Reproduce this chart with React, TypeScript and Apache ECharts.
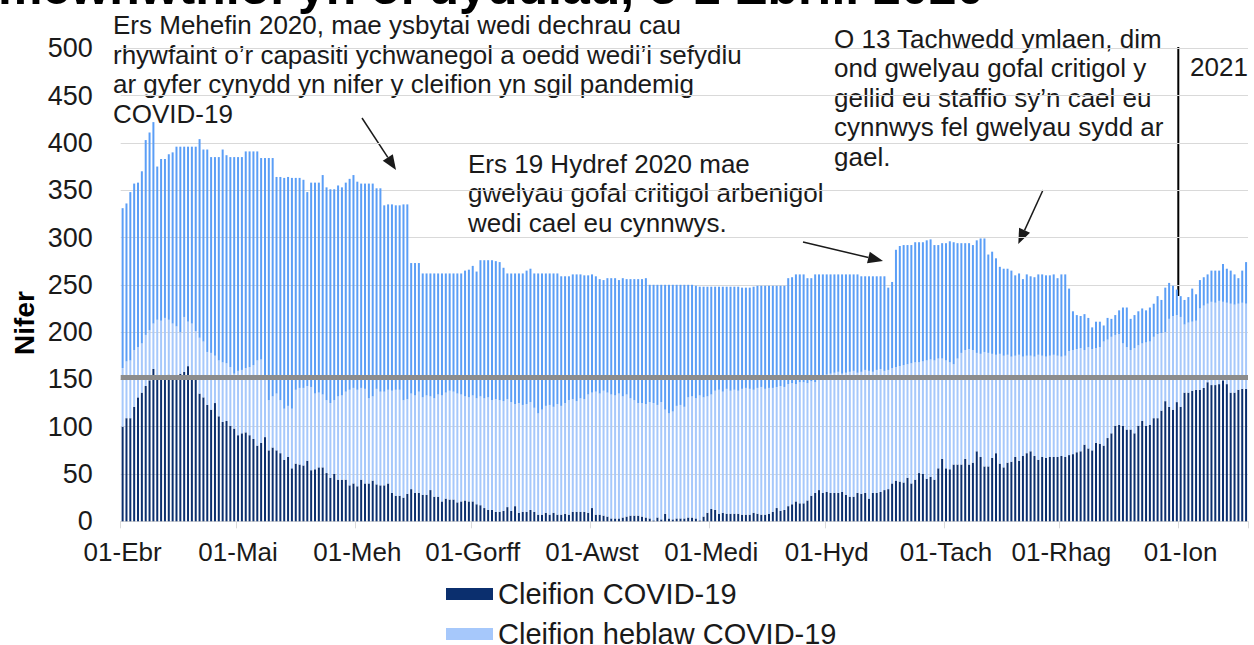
import React, { useEffect, useRef } from "react";
import * as echarts from "echarts";

const FONT = '"Liberation Sans", Arial, sans-serif';
const DARK = "#0b2f6e";
const LIGHT = "#a6c8fb";
const MID = "#5b9ef6";

// Welsh month abbreviations and days shown per month (1 Apr 2020 – 18 Jan 2021)
const monthNames = ["Ebr", "Mai", "Meh", "Gorff", "Awst", "Medi", "Hyd", "Tach", "Rhag", "Ion"];
const monthLengths = [30, 31, 30, 31, 31, 30, 31, 30, 31, 18];

// Cleifion COVID-19 (daily)
const covid = [
  100, 109, 109, 121, 131, 136, 143, 149, 161, 152,
  154, 153, 155, 152, 154, 156, 158, 164, 152, 150,
  135, 131, 123, 118, 125, 111, 105, 106, 101, 98,
  91, 93, 94, 91, 87, 80, 83, 89, 75, 78,
  75, 72, 65, 68, 56, 61, 60, 59, 64, 54,
  55, 57, 57, 51, 46, 50, 44, 44, 44, 38,
  40, 37, 44, 40, 40, 43, 39, 38, 38, 40,
  30, 27, 27, 25, 29, 34, 30, 30, 28, 28,
  33, 26, 26, 21, 24, 23, 23, 20, 21, 22,
  21, 21, 18, 17, 14, 12, 12, 10, 10, 11,
  15, 11, 16, 9, 10, 10, 12, 10, 7, 7,
  9, 7, 9, 7, 7, 8, 7, 10, 10, 10,
  10, 9, 14, 7, 7, 6, 5, 3, 3, 3,
  4, 5, 6, 6, 6, 5, 4, 3, 1, 4,
  2, 8, 3, 2, 3, 3, 3, 4, 4, 3,
  1, 5, 9, 13, 12, 8, 9, 8, 8, 8,
  8, 7, 7, 7, 9, 8, 7, 7, 8, 10,
  14, 11, 12, 16, 18, 21, 19, 19, 22, 27,
  30, 33, 30, 31, 30, 30, 30, 31, 28, 26,
  26, 30, 29, 30, 24, 30, 30, 31, 33, 34,
  40, 43, 42, 41, 46, 40, 44, 51, 50, 45,
  47, 44, 56, 66, 56, 55, 60, 60, 60, 66,
  60, 62, 74, 68, 58, 58, 67, 72, 61, 57,
  62, 63, 68, 64, 69, 72, 74, 69, 65, 68,
  67, 68, 68, 68, 69, 68, 70, 71, 73, 74,
  81, 77, 75, 83, 82, 80, 88, 93, 101, 102,
  101, 97, 97, 93, 101, 106, 101, 102, 109, 109,
  117, 127, 121, 118, 126, 121, 136, 136, 138, 139,
  139, 141, 147, 144, 144, 145, 149, 145, 136, 136,
  139, 140, 140,
];

// Cleifion heblaw COVID-19 (daily)
const nonCovid = [
  62, 60, 61, 60, 53, 52, 54, 53, 48, 61,
  58, 62, 58, 57, 52, 44, 58, 47, 57, 51,
  59, 59, 56, 60, 50, 59, 63, 61, 62, 58,
  68, 67, 68, 72, 78, 90, 88, 64, 53, 54,
  60, 56, 54, 54, 63, 78, 81, 82, 79, 88,
  80, 79, 77, 77, 79, 78, 88, 89, 93, 101,
  101, 102, 97, 100, 90, 89, 101, 99, 99, 99,
  108, 112, 112, 103, 100, 101, 103, 107, 103, 105,
  99, 104, 108, 112, 112, 115, 114, 115, 113, 110,
  110, 112, 112, 115, 116, 119, 116, 119, 118, 116,
  114, 115, 108, 116, 113, 114, 114, 110, 107, 111,
  113, 116, 112, 117, 115, 117, 121, 119, 117, 120,
  119, 125, 122, 130, 128, 132, 131, 131, 130, 132,
  128, 129, 124, 122, 119, 120, 120, 123, 124, 119,
  124, 110, 111, 114, 119, 120, 118, 127, 128, 127,
  132, 126, 123, 121, 126, 131, 128, 132, 130, 131,
  130, 133, 134, 133, 130, 133, 135, 133, 133, 131,
  128, 132, 130, 129, 128, 124, 128, 128, 124, 121,
  117, 119, 124, 124, 126, 127, 128, 125, 129, 132,
  133, 127, 129, 130, 135, 128, 130, 130, 126, 126,
  122, 120, 122, 124, 120, 127, 124, 117, 119, 125,
  124, 126, 116, 106, 114, 113, 106, 112, 118, 115,
  122, 119, 104, 109, 121, 120, 110, 104, 116, 118,
  114, 111, 107, 112, 105, 103, 101, 105, 111, 107,
  107, 107, 108, 107, 105, 107, 110, 110, 109, 109,
  100, 107, 107, 100, 102, 110, 104, 102, 96, 96,
  87, 87, 84, 90, 85, 82, 88, 88, 86, 89,
  82, 73, 93, 99, 92, 95, 72, 74, 73, 73,
  86, 87, 83, 88, 87, 88, 83, 86, 94, 93,
  91, 91, 90,
];

// Gwelyau gwag sydd ar gael (daily)
const available = [
  169, 167, 178, 176, 174, 182, 206, 209, 213, 162,
  171, 168, 175, 181, 190, 196, 180, 185, 187, 195,
  210, 203, 214, 207, 210, 215, 225, 220, 222, 229,
  226, 225, 229, 228, 226, 221, 213, 231, 256, 252,
  229, 236, 244, 242, 244, 224, 222, 220, 205, 216,
  223, 222, 232, 225, 226, 223, 223, 220, 221, 223,
  225, 220, 216, 217, 227, 225, 212, 215, 197, 196,
  197, 195, 195, 207, 206, 138, 140, 136, 131, 129,
  130, 132, 128, 129, 126, 124, 125, 127, 128, 133,
  135, 137, 134, 144, 146, 145, 148, 146, 146, 141,
  133, 136, 138, 137, 139, 141, 141, 142, 148, 144,
  140, 139, 141, 138, 137, 134, 131, 132, 134, 131,
  131, 126, 125, 122, 121, 117, 121, 123, 124, 120,
  125, 122, 126, 128, 131, 131, 133, 124, 125, 127,
  124, 132, 136, 134, 128, 127, 129, 119, 118, 119,
  115, 117, 116, 114, 110, 109, 111, 108, 110, 109,
  110, 107, 106, 107, 109, 108, 107, 109, 108, 108,
  107, 106, 107, 112, 112, 116, 114, 114, 111, 109,
  114, 109, 107, 106, 105, 104, 103, 105, 104, 103,
  102, 104, 101, 99, 100, 101, 99, 98, 100, 87,
  91, 124, 127, 127, 126, 125, 127, 127, 126, 127,
  127, 122, 120, 122, 124, 128, 129, 122, 116, 113,
  112, 111, 119, 122, 120, 104, 108, 102, 92, 92,
  91, 91, 85, 86, 82, 86, 84, 84, 85, 86,
  86, 85, 85, 82, 87, 86, 66, 41, 36, 34,
  38, 31, 23, 28, 27, 17, 23, 19, 21, 25,
  38, 42, 33, 35, 36, 37, 34, 36, 35, 40,
  35, 47, 38, 32, 27, 22, 26, 27, 35, 28,
  30, 30, 31, 33, 34, 32, 40, 36, 35, 32,
  27, 34, 44,
];

const baselineBeds = 152;
const yMin = 0;
const yMax = 500;
const yStep = 50;

const categories: string[] = [];
monthNames.forEach((m, i) => {
  for (let d = 1; d <= monthLengths[i]; d++) {
    categories.push(`${String(d).padStart(2, "0")}-${m}`);
  }
});

const isMonthStart = (_i: number, v: string) => String(v).startsWith("01-");

function arrow(x1: number, y1: number, x2: number, y2: number) {
  const dx = x2 - x1;
  const dy = y2 - y1;
  const len = Math.sqrt(dx * dx + dy * dy);
  const ux = dx / len;
  const uy = dy / len;
  const headLen = 15;
  const headHalf = 6;
  const bx = x2 - ux * headLen;
  const by = y2 - uy * headLen;
  const px = -uy * headHalf;
  const py = ux * headHalf;
  return [
    { type: "line", silent: true, shape: { x1, y1, x2: bx, y2: by }, style: { stroke: "#1a1a1a", lineWidth: 1.5 } },
    {
      type: "polygon",
      silent: true,
      shape: { points: [[x2, y2], [bx + px, by + py], [bx - px, by - py]] },
      style: { fill: "#1a1a1a" },
    },
  ];
}

const annoFont = `26px ${FONT}`;
const legendText = { fontSize: 29, color: "#1a1a1a", fontFamily: FONT, lineHeight: 30 };

export default function App() {
  const ref = useRef<HTMLDivElement>(null);
  useEffect(() => {
    const chart = echarts.init(ref.current!, null, { renderer: "svg" });
    chart.setOption({
      animation: false,
      textStyle: { fontFamily: FONT },
      grid: { left: 120.7, right: 6, top: 48.3, bottom: 123.7, containLabel: false },
      legend: [
        {
          show: true,
          left: 446,
          top: 579,
          padding: 0,
          itemWidth: 47,
          itemHeight: 12,
          icon: "rect",
          data: ["Cleifion COVID-19"],
          textStyle: legendText,
        },
        {
          show: true,
          left: 446,
          top: 619,
          padding: 0,
          itemWidth: 47,
          itemHeight: 12,
          icon: "rect",
          data: ["Cleifion heblaw COVID-19"],
          textStyle: legendText,
        },
      ],
      xAxis: {
        type: "category",
        data: categories,
        boundaryGap: true,
        axisLine: { show: true, lineStyle: { color: "#d9d9d9", width: 1 } },
        axisTick: { show: true, interval: isMonthStart, length: 7, lineStyle: { color: "#d9d9d9", width: 1 } },
        axisLabel: { interval: isMonthStart, fontSize: 26, color: "#1a1a1a", margin: 18, fontFamily: FONT },
        splitLine: { show: false },
      },
      yAxis: {
        type: "value",
        min: yMin,
        max: yMax,
        interval: yStep,
        axisLine: { show: false },
        axisTick: { show: false },
        axisLabel: { fontSize: 27, color: "#1a1a1a", margin: 28, fontFamily: FONT },
        splitLine: { show: true, lineStyle: { color: "#d9d9d9", width: 1 } },
      },
      series: [
        {
          name: "Cleifion COVID-19",
          type: "bar",
          stack: "beds",
          data: covid,
          barCategoryGap: "48%",
          itemStyle: { color: DARK },
          emphasis: { disabled: true },
        },
        {
          name: "Cleifion heblaw COVID-19",
          type: "bar",
          stack: "beds",
          data: nonCovid,
          barCategoryGap: "48%",
          itemStyle: { color: LIGHT },
          emphasis: { disabled: true },
        },
        {
          name: "Gwelyau gwag",
          type: "bar",
          stack: "beds",
          data: available,
          barCategoryGap: "48%",
          itemStyle: { color: MID },
          emphasis: { disabled: true },
          markLine: {
            silent: true,
            symbol: "none",
            label: { show: false },
            lineStyle: { color: "#8c8c8c", width: 5, type: "solid" },
            data: [{ yAxis: baselineBeds }],
          },
        },
      ],
      graphic: [
        {
          type: "text",
          x: -2,
          y: -13,
          silent: true,
          style: {
            text: "mewnwthiol yn ôl dyddiad, o 1 Ebrill 2020",
            font: `bold 50px ${FONT}`,
            fill: "#000",
            verticalAlign: "middle",
          },
        },
        {
          type: "text",
          x: 24,
          y: 323,
          rotation: Math.PI / 2,
          silent: true,
          style: { text: "Nifer", font: `bold 28px ${FONT}`, fill: "#000", align: "center", verticalAlign: "middle" },
        },
        {
          type: "text",
          x: 113,
          y: 10.3,
          silent: true,
          style: {
            text:
              "Ers Mehefin 2020, mae ysbytai wedi dechrau cau\nrhywfaint o’r capasiti ychwanegol a oedd wedi’i sefydlu\nar gyfer cynydd yn nifer y cleifion yn sgil pandemig\nCOVID-19",
            font: annoFont,
            lineHeight: 29.5,
            fill: "#1a1a1a",
            verticalAlign: "top",
          },
        },
        {
          type: "text",
          x: 468,
          y: 149,
          silent: true,
          style: {
            text: "Ers 19 Hydref 2020 mae\ngwelyau gofal critigol arbenigol\nwedi cael eu cynnwys.",
            font: annoFont,
            lineHeight: 29.5,
            fill: "#1a1a1a",
            verticalAlign: "top",
          },
        },
        {
          type: "text",
          x: 834,
          y: 24,
          silent: true,
          style: {
            text:
              "O 13 Tachwedd ymlaen, dim\nond gwelyau gofal critigol y\ngellid eu staffio sy’n cael eu\ncynnwys fel gwelyau sydd ar\ngael.",
            font: annoFont,
            lineHeight: 29.5,
            fill: "#1a1a1a",
            verticalAlign: "top",
          },
        },
        {
          type: "text",
          x: 1190,
          y: 67,
          silent: true,
          style: { text: "2021", font: annoFont, fill: "#1a1a1a", verticalAlign: "middle" },
        },
        {
          type: "line",
          silent: true,
          shape: { x1: 1178.3, y1: 47, x2: 1178.3, y2: 296 },
          style: { stroke: "#000", lineWidth: 2 },
        },
        ...arrow(362, 118, 396, 170),
        ...arrow(803, 242, 883, 261),
        ...arrow(1043, 190, 1018.3, 244),
      ],
    });
    return () => chart.dispose();
  }, []);
  return <div ref={ref} style={{ position: "absolute", left: 0, top: 0, width: 1254, height: 645 }} />;
}
